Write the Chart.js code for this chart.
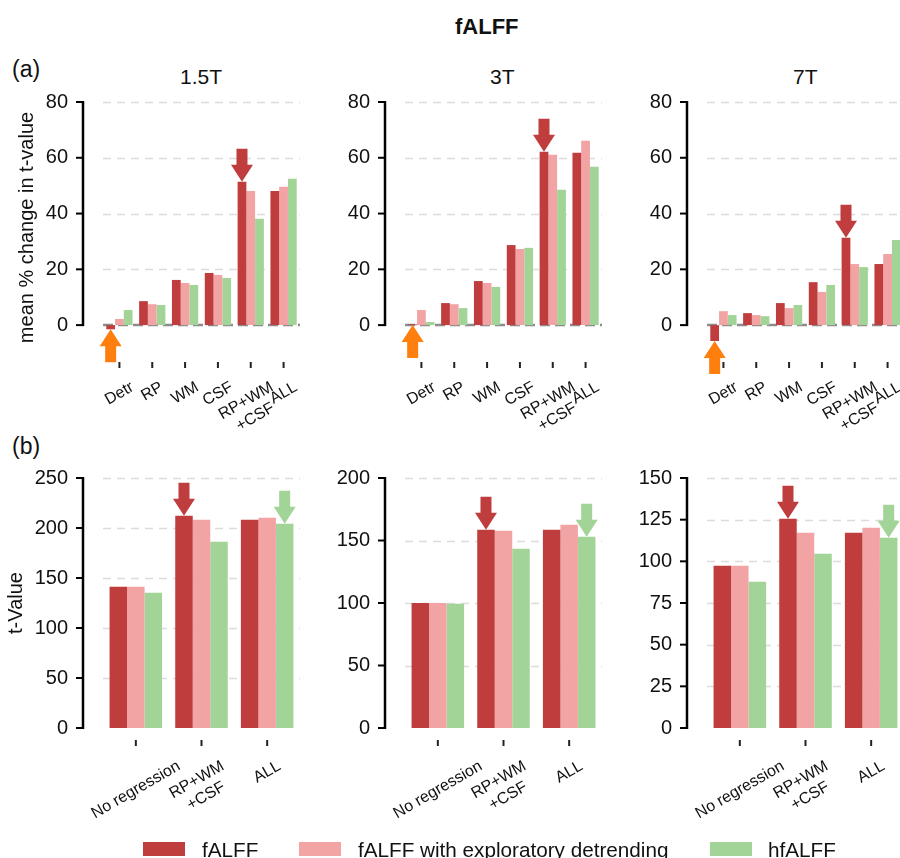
<!DOCTYPE html>
<html>
<head>
<meta charset="utf-8">
<script src="https://cdn.jsdelivr.net/npm/chart.js@4/dist/chart.umd.min.js"></script>
<style>
  body { margin: 0; background: #fff; }
  #fig { position: relative; width: 900px; height: 858px; overflow: hidden; background: #fff;
         font-family: "Liberation Sans", Arial, Helvetica, sans-serif; color: #111; }
  #fig canvas { position: absolute; }
  .txt { position: absolute; white-space: nowrap; line-height: 1; }
  .legend-box { position: absolute; width: 42px; height: 14px; top: 842px; }
</style>
</head>
<body>
<div id="fig">
  <div class="txt" style="left:455px; top:16px; font-size:22px; font-weight:bold;">fALFF</div>
  <div class="txt" style="left:12px; top:58px; font-size:23px;">(a)</div>
  <div class="txt" style="left:12px; top:435px; font-size:23px;">(b)</div>
  <div class="txt" style="left:180px; top:66px; font-size:21px;">1.5T</div>
  <div class="txt" style="left:490px; top:66px; font-size:21px;">3T</div>
  <div class="txt" style="left:793px; top:66px; font-size:21px;">7T</div>

  <canvas id="a15" width="303" height="385" style="left:0px; top:55px;"></canvas>
  <canvas id="a3" width="303" height="385" style="left:302px; top:55px;"></canvas>
  <canvas id="a7" width="303" height="385" style="left:604px; top:55px;"></canvas>
  <canvas id="b15" width="303" height="399" style="left:0px; top:431px;"></canvas>
  <canvas id="b3" width="303" height="399" style="left:302px; top:431px;"></canvas>
  <canvas id="b7" width="303" height="399" style="left:604px; top:431px;"></canvas>

  <div class="legend-box" style="left:143px; background:#c03d3e;"></div>
  <div class="txt" style="left:202px; top:840px; font-size:20.7px;">fALFF</div>
  <div class="legend-box" style="left:299px; background:#f2a4a5;"></div>
  <div class="txt" style="left:358px; top:840px; font-size:20.7px;">fALFF with exploratory detrending</div>
  <div class="legend-box" style="left:710px; background:#a1d496;"></div>
  <div class="txt" style="left:768px; top:840px; font-size:20.7px;">hfALFF</div>
</div>

<script>
const seriesNames = ['fALFF', 'fALFF with exploratory detrending', 'hfALFF'];

// (a) mean % change in t-value, per regression step
const stepLabels = ['Detr', 'RP', 'WM', 'CSF', ['RP+WM', '+CSF'], 'ALL'];
const pctFalff15 = [-1.5, 8.6, 16.2, 18.7, 51.4, 48.1];
const pctDetr15 = [2.2, 7.5, 15.1, 18.0, 48.1, 49.6];
const pctHf15 = [5.4, 7.2, 14.4, 16.9, 38.1, 52.5];
const pctFalff3 = [0.3, 7.9, 15.8, 28.7, 62.2, 61.8];
const pctDetr3 = [5.4, 7.5, 15.1, 27.3, 61.1, 66.1];
const pctHf3 = [1.1, 6.1, 13.7, 27.7, 48.5, 56.8];
const pctFalff7 = [-5.7, 4.3, 7.9, 15.4, 31.3, 21.9];
const pctDetr7 = [5.0, 3.6, 6.1, 11.9, 21.9, 25.5];
const pctHf7 = [3.6, 3.2, 7.2, 14.4, 20.8, 30.5];
const pctTicks = [0, 20, 40, 60, 80];

// (b) t-values
const modelLabels = ['No regression', ['RP+WM', '+CSF'], 'ALL'];
const tFalff15 = [141.3, 212.3, 208.3];
const tDetr15 = [141.3, 208.3, 210.3];
const tHf15 = [135.3, 186.3, 204.3];
const tFalff3 = [100.0, 158.7, 158.7];
const tDetr3 = [100.0, 157.9, 162.7];
const tHf3 = [99.5, 143.5, 153.1];
const tFalff7 = [97.4, 125.6, 117.2];
const tDetr7 = [97.4, 117.2, 120.2];
const tHf7 = [87.8, 104.6, 114.2];
const tTicks15 = [0, 50, 100, 150, 200, 250];
const tTicks3 = [0, 50, 100, 150, 200];
const tTicks7 = [0, 25, 50, 75, 100, 125, 150];

const RED = '#c03d3e', PINK = '#f2a4a5', GREEN = '#a1d496', ORANGE = '#ff7f0e';
const FONT = '"Liberation Sans", Arial, Helvetica, sans-serif';

// arrows point at [series, category]
const topArrows = [
    { series: 0, cat: 0, dir: 'up', color: ORANGE },
    { series: 0, cat: 4, dir: 'down', color: RED }
];
const bottomArrows = [
    { series: 0, cat: 1, dir: 'down', color: RED },
    { series: 2, cat: 2, dir: 'down', color: GREEN }
];

Chart.defaults.font.family = FONT;
Chart.defaults.color = '#111';

function drawArrow(ctx, x, tipY, dir, color) {
    const len = 33, headLen = 17, headW = 11, shaftW = 5.5;
    const s = dir === 'down' ? -1 : 1;   // tail sits above (down) or below (up) the tip
    const tailY = tipY + s * len;
    const neckY = tipY + s * headLen;
    ctx.save();
    ctx.fillStyle = color;
    ctx.beginPath();
    ctx.moveTo(x, tipY);
    ctx.lineTo(x + headW, neckY);
    ctx.lineTo(x + shaftW, neckY);
    ctx.lineTo(x + shaftW, tailY);
    ctx.lineTo(x - shaftW, tailY);
    ctx.lineTo(x - shaftW, neckY);
    ctx.lineTo(x - headW, neckY);
    ctx.closePath();
    ctx.fill();
    ctx.restore();
}

const panelDecor = {
    id: 'panelDecor',
    beforeDatasetsDraw(chart, args, opts) {
        const { ctx, chartArea } = chart;
        const y = chart.scales.y;
        ctx.save();
        ctx.lineWidth = 1.3;
        ctx.strokeStyle = '#dcdcdc';
        ctx.setLineDash([8, 6]);
        opts.ticks.forEach(v => {
            if (v === 0) return;
            const py = Math.round(y.getPixelForValue(v)) + 0.5;
            ctx.beginPath();
            ctx.moveTo(chartArea.left, py);
            ctx.lineTo(chartArea.right, py);
            ctx.stroke();
        });
        if (opts.zeroLine) {
            const py = y.getPixelForValue(0);
            ctx.strokeStyle = '#8c8c8c';
            ctx.lineWidth = 2.5;
            ctx.setLineDash([10, 5]);
            ctx.beginPath();
            ctx.moveTo(chartArea.left, py);
            ctx.lineTo(chartArea.right, py);
            ctx.stroke();
        }
        ctx.restore();
    },
    afterDatasetsDraw(chart, args, opts) {
        const { ctx, chartArea } = chart;
        const x = chart.scales.x, y = chart.scales.y;
        ctx.save();
        // trimmed y spine with outward ticks
        const spineX = chartArea.left - 20;
        ctx.strokeStyle = '#000';
        ctx.lineWidth = 2.5;
        ctx.beginPath();
        ctx.moveTo(spineX, y.getPixelForValue(opts.ticks[0]) + 1);
        ctx.lineTo(spineX, y.getPixelForValue(opts.ticks[opts.ticks.length - 1]) - 1);
        ctx.stroke();
        ctx.lineWidth = 2;
        opts.ticks.forEach(v => {
            const py = y.getPixelForValue(v);
            ctx.beginPath();
            ctx.moveTo(spineX - 7, py);
            ctx.lineTo(spineX, py);
            ctx.stroke();
        });
        // detached x ticks and rotated labels centred on them
        const labels = chart.data.labels;
        const theta = 30 * Math.PI / 180;
        ctx.font = '16px ' + FONT;
        ctx.fillStyle = '#111';
        ctx.strokeStyle = '#222';
        ctx.lineWidth = 2;
        ctx.textAlign = 'center';
        ctx.textBaseline = 'middle';
        labels.forEach((lab, i) => {
            const px = x.getPixelForValue(i);
            ctx.beginPath();
            ctx.moveTo(px, chartArea.bottom + opts.tickTop);
            ctx.lineTo(px, chartArea.bottom + opts.tickTop + 6);
            ctx.stroke();
            const lines = Array.isArray(lab) ? lab : [lab];
            const lh = 18.5;
            const w = Math.max(...lines.map(l => ctx.measureText(l).width));
            const h = lines.length * lh;
            const boxH = w * Math.sin(theta) + h * Math.cos(theta);
            const cy = chartArea.bottom + opts.labelTop + boxH / 2;
            ctx.save();
            ctx.translate(px, cy);
            ctx.rotate(-theta);
            lines.forEach((l, k) => ctx.fillText(l, 0, (k - (lines.length - 1) / 2) * lh));
            ctx.restore();
        });
        // highlight arrows
        opts.arrows.forEach(a => {
            const bar = chart.getDatasetMeta(a.series).data[a.cat];
            const tip = a.dir === 'down' ? Math.min(bar.y, bar.base) : Math.max(bar.y, bar.base);
            drawArrow(ctx, bar.x, tip, a.dir, a.color);
        });
        ctx.restore();
    }
};

function makePanel(id, labels, falff, detr, hf, ticks, yMin, opts) {
    const ctx = document.getElementById(id).getContext('2d');
    return new Chart(ctx, {
        type: 'bar',
        data: {
            labels: labels,
            datasets: [
                { label: seriesNames[0], data: falff, backgroundColor: RED },
                { label: seriesNames[1], data: detr, backgroundColor: PINK },
                { label: seriesNames[2], data: hf, backgroundColor: GREEN }
            ]
        },
        options: {
            responsive: false,
            animation: false,
            // the y tick padding (35) also pads the chart area top by 35 + half a label
            layout: { padding: { left: 0, top: 0, right: 3, bottom: 0 } },
            datasets: { bar: { categoryPercentage: 0.8, barPercentage: 1.0, borderWidth: 0 } },
            scales: {
                x: {
                    grid: { display: false },
                    border: { display: false },
                    ticks: { display: false },
                    afterFit: scale => { scale.height = opts.xHeight; }
                },
                y: {
                    min: yMin,
                    max: ticks[ticks.length - 1],
                    grid: { display: false, drawTicks: false },
                    border: { display: false },
                    afterBuildTicks: scale => { scale.ticks = ticks.map(v => ({ value: v })); },
                    ticks: { padding: 35, font: { size: 20 }, color: '#111' },
                    title: {
                        display: !!opts.yTitle,
                        text: opts.yTitle || '',
                        font: { size: 20 },
                        color: '#111',
                        padding: { top: opts.titlePad || 0, bottom: 0 }
                    },
                    afterFit: scale => { scale.width = 103; }
                }
            },
            plugins: {
                legend: { display: false },
                tooltip: { enabled: false },
                panelDecor: {
                    ticks: ticks,
                    zeroLine: opts.zeroLine,
                    arrows: opts.arrows,
                    tickTop: opts.tickTop,
                    labelTop: opts.labelTop
                }
            }
        },
        plugins: [panelDecor]
    });
}

const topOpts = { xHeight: 87, zeroLine: true, arrows: topArrows, tickTop: 9, labelTop: 25 };
const bottomOpts = { xHeight: 102, zeroLine: false, arrows: bottomArrows, tickTop: 12, labelTop: 29 };

makePanel('a15', stepLabels, pctFalff15, pctDetr15, pctHf15, pctTicks, -10,
    Object.assign({ yTitle: 'mean % change in t-value', titlePad: 15 }, topOpts));
makePanel('a3', stepLabels, pctFalff3, pctDetr3, pctHf3, pctTicks, -10, topOpts);
makePanel('a7', stepLabels, pctFalff7, pctDetr7, pctHf7, pctTicks, -10, topOpts);

makePanel('b15', modelLabels, tFalff15, tDetr15, tHf15, tTicks15, 0,
    Object.assign({ yTitle: 't-Value', titlePad: 4 }, bottomOpts));
makePanel('b3', modelLabels, tFalff3, tDetr3, tHf3, tTicks3, 0, bottomOpts);
makePanel('b7', modelLabels, tFalff7, tDetr7, tHf7, tTicks7, 0, bottomOpts);
</script>
</body>
</html>
